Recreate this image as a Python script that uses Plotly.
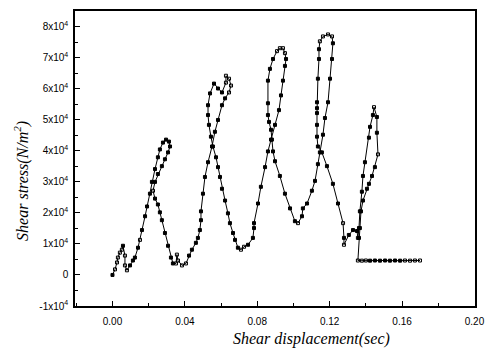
import plotly.graph_objects as go

# Shear displacement (x) and shear stress (N/m^2)
displacement = [
    0.0000, 0.0014, 0.0025, 0.0030, 0.0041, 0.0052, 0.0058, 0.0069, 0.0069, 0.0080,
    0.0097, 0.0113, 0.0124, 0.0141, 0.0152, 0.0163, 0.0180, 0.0191, 0.0207, 0.0218,
    0.0235, 0.0251, 0.0262, 0.0279, 0.0296, 0.0312, 0.0318, 0.0307, 0.0290, 0.0273,
    0.0251, 0.0235, 0.0224, 0.0235, 0.0251, 0.0262, 0.0273, 0.0290, 0.0307, 0.0323,
    0.0334, 0.0351, 0.0356, 0.0362, 0.0384, 0.0406, 0.0423, 0.0439, 0.0461, 0.0472,
    0.0483, 0.0489, 0.0489, 0.0500, 0.0511, 0.0528, 0.0550, 0.0566, 0.0583, 0.0605,
    0.0622, 0.0644, 0.0655, 0.0644, 0.0627, 0.0627, 0.0605, 0.0583, 0.0561, 0.0539,
    0.0528, 0.0528, 0.0533, 0.0544, 0.0555, 0.0572, 0.0583, 0.0594, 0.0605, 0.0622,
    0.0638, 0.0649, 0.0666, 0.0677, 0.0693, 0.0710, 0.0727, 0.0749, 0.0776, 0.0782,
    0.0782, 0.0804, 0.0820, 0.0843, 0.0859, 0.0876, 0.0898, 0.0920, 0.0931, 0.0942,
    0.0953, 0.0959, 0.0953, 0.0942, 0.0925, 0.0909, 0.0887, 0.0870, 0.0859, 0.0859,
    0.0859, 0.0865, 0.0876, 0.0881, 0.0887, 0.0898, 0.0925, 0.0953, 0.0981, 0.1008,
    0.1025, 0.1047, 0.1052, 0.1075, 0.1102, 0.1119, 0.1135, 0.1146, 0.1163, 0.1174,
    0.1191, 0.1202, 0.1213, 0.1218, 0.1213, 0.1191, 0.1163, 0.1146, 0.1141, 0.1141,
    0.1135, 0.1130, 0.1130, 0.1130, 0.1130, 0.1130, 0.1135, 0.1157, 0.1185, 0.1218,
    0.1246, 0.1274, 0.1279, 0.1279, 0.1306, 0.1329, 0.1351, 0.1356, 0.1362, 0.1367,
    0.1378, 0.1384, 0.1395, 0.1417, 0.1423, 0.1439, 0.1445, 0.1461, 0.1461, 0.1467,
    0.1450, 0.1434, 0.1417, 0.1406, 0.1384, 0.1373, 0.1367, 0.1362, 0.1356, 0.1378,
    0.1400, 0.1423, 0.1450, 0.1478, 0.1506, 0.1533, 0.1561, 0.1589, 0.1616, 0.1644,
    0.1671, 0.1699,
]
shear_stress = [
    0, 1800, 4020, 5600, 7180, 8130, 9400, 6230, 3070, 1490,
    3070, 4650, 5600, 8770, 11300, 14460, 18900, 22060, 26170, 29970,
    34090, 37890, 40420, 42630, 43580, 42950, 41370, 39470, 37250, 35040,
    32500, 29970, 27120, 24590, 22690, 20160, 17630, 13510, 9400, 5600,
    3700, 3700, 6550, 4650, 3070, 3700, 6230, 8130, 10350, 11930,
    14460, 17630, 20480, 26170, 31550, 36300, 41370, 46110, 49910, 54660,
    56870, 58770, 60990, 63200, 64150, 61940, 58770, 60040, 61620, 58460,
    54660, 51490, 48330, 44530, 41370, 37890, 34720, 31550, 27760, 23960,
    19840, 16680, 13510, 11300, 8770, 8130, 9080, 9720, 11930, 15100,
    16680, 23010, 28390, 34720, 39780, 43580, 48330, 53080, 57820, 62570,
    67320, 69540, 71430, 73020, 73020, 72070, 69540, 66370, 62570, 55290,
    51490, 49280, 46750, 43580, 39780, 36620, 31870, 26170, 21430, 17310,
    16680, 18900, 21430, 23010, 27120, 30290, 35670, 39470, 45160, 50540,
    55610, 63200, 69540, 74600, 76810, 77450, 76810, 75230, 72700, 69540,
    63200, 55610, 53710, 52130, 48330, 44530, 41370, 39470, 35040, 29340,
    23010, 16680, 11930, 9720, 12880, 14460, 14150, 11930, 15100, 20480,
    26810, 31870, 36300, 44210, 47700, 51490, 54030, 50860, 45800, 38830,
    34720, 31870, 29340, 27760, 23960, 20480, 15100, 11930, 4650, 4600,
    4650, 4600, 4650, 4600, 4650, 4600, 4650, 4600, 4650, 4600,
    4650, 4650,
]

# points drawn with open symbols in the reference
open_points = [1, 2, 3, 4, 5, 7, 8, 9, 14, 32, 41, 42, 43, 44, 45,
               61, 62, 63, 64, 65, 85, 86, 102, 103, 104, 105, 120,
               134, 135, 136, 137, 151, 153, 157, 166, 169, 178, 179, 180,
               188, 189, 190, 191]

y_tick_vals = [-10000, 0, 10000, 20000, 30000, 40000, 50000, 60000, 70000, 80000]
y_tick_text = ["-1x10<sup>4</sup>", "0", "1x10<sup>4</sup>", "2x10<sup>4</sup>",
               "3x10<sup>4</sup>", "4x10<sup>4</sup>", "5x10<sup>4</sup>",
               "6x10<sup>4</sup>", "7x10<sup>4</sup>", "8x10<sup>4</sup>"]
x_tick_vals = [0.00, 0.04, 0.08, 0.12, 0.16, 0.20]
x_tick_text = ["0.00", "0.04", "0.08", "0.12", "0.16", "0.20"]

symbols = ["square-open" if i in open_points else "square" for i in range(len(displacement))]

fig = go.Figure()
fig.add_trace(go.Scatter(
    x=displacement, y=shear_stress, mode="lines+markers",
    line=dict(color="black", width=1),
    marker=dict(symbol=symbols, size=3, color="black",
                line=dict(color="black", width=1)),
    showlegend=False,
))

axis_font = dict(family="Liberation Sans, Arial, sans-serif", size=10, color="black")
fig.update_xaxes(
    range=[-0.0207, 0.2003], tickvals=x_tick_vals, ticktext=x_tick_text,
    ticks="inside", ticklen=5, tickwidth=1, tickcolor="black",
    minor=dict(dtick=0.02, tick0=0, ticks="inside", ticklen=3, tickcolor="black"),
    showline=True, linecolor="black", linewidth=1.5, mirror=True,
    showgrid=False, zeroline=False, tickfont=axis_font, ticklabelstandoff=5,
)
fig.update_yaxes(
    range=[-10000, 85000], tickvals=y_tick_vals, ticktext=y_tick_text,
    ticks="inside", ticklen=5, tickwidth=1, tickcolor="black",
    minor=dict(dtick=5000, tick0=0, ticks="inside", ticklen=3, tickcolor="black"),
    showline=True, linecolor="black", linewidth=1.5, mirror=True,
    showgrid=False, zeroline=False, tickfont=axis_font, ticklabelstandoff=3,
)

title_font = dict(family="Liberation Serif, Times New Roman, serif", size=16, color="black")
fig.add_annotation(text="<i>Shear displacement(sec)</i>", xref="paper", yref="paper",
                   x=0.59, y=-0.111, showarrow=False, font=title_font,
                   xanchor="center", yanchor="middle")
fig.add_annotation(text="<i>Shear stress(N/m<sup>2</sup>)</i>", xref="paper", yref="paper",
                   x=-0.1325, y=0.424, showarrow=False, font=title_font, textangle=-90,
                   xanchor="center", yanchor="middle")

fig.update_layout(
    width=494, height=353, margin=dict(l=75, r=19, t=9, b=47),
    paper_bgcolor="white", plot_bgcolor="white",
)
fig.write_html("out.html")
